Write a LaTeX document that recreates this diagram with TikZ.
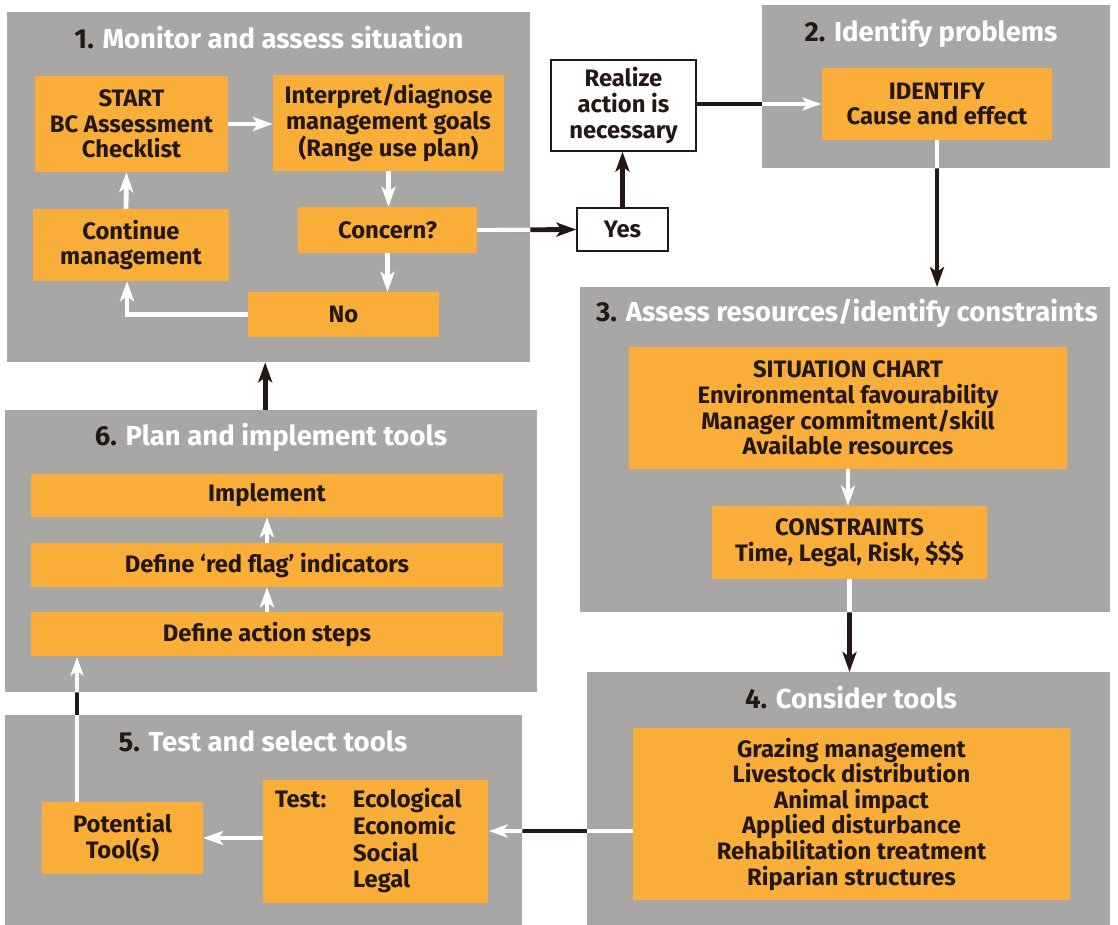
\documentclass[tikz,border=0pt]{standalone}
\usepackage{fontspec}
\setmainfont{Fira Sans}
\usetikzlibrary{arrows.meta}
\definecolor{panelgrey}{RGB}{168,167,165}
\definecolor{boxorange}{RGB}{248,174,56}
\definecolor{ink}{RGB}{35,24,21}

\begin{document}
\begin{tikzpicture}[x=1pt,y=-1pt,
        panel/.style={fill=panelgrey,inner sep=0pt,anchor=north west},
        ptitle/.style={text=white,font=\bfseries\fontsize{27.5}{30}\selectfont,inner sep=0pt},
        obox/.style={fill=boxorange,text=ink,align=center,inner sep=0pt,font=\bfseries\fontsize{23.8}{25.6}\selectfont},
        wbox/.style={obox,fill=white,draw=ink,line width=1.3pt},
        wlink/.style={draw=white,line width=4.8pt,-{Stealth[length=20pt,width=14pt,inset=5pt]}},
        klink/.style={wlink,draw=ink,fill=ink}
    ]
    \useasboundingbox (0,0) rectangle (1118,925);

    %--- panels ---
    \node[panel,minimum width=523,minimum height=350] (p1) at (7,12) {};
    \node[panel,minimum width=348,minimum height=163] (p2) at (762,5) {};
    \node[panel,minimum width=530,minimum height=325] (p3) at (580,287) {};
    \node[panel,minimum width=523,minimum height=253] (p4) at (587,672) {};
    \node[panel,minimum width=517,minimum height=210] (p5) at (5,715) {};
    \node[panel,minimum width=532,minimum height=282] (p6) at (5,410) {};

    %--- titles ---
    \node[ptitle] (t1) at (269,38) {\textcolor{ink}{1.} Monitor and assess situation};
    \node[ptitle] (t2) at (931,33) {\textcolor{ink}{2.} Identify problems};
    \node[ptitle] (t3) at (847,313) {\textcolor{ink}{3.} Assess resources/identify constraints};
    \node[ptitle] (t4) at (851,698) {\textcolor{ink}{4.} Consider tools};
    \node[ptitle] (t5) at (263,741) {\textcolor{ink}{5.} Test and select tools};
    \node[ptitle] (t6) at (271,437) {\textcolor{ink}{6.} Plan and implement tools};

    %--- 1. monitor ---
    \node[obox,minimum width=193,minimum height=96] (start) at (131.5,124) {START\\BC Assessment\\Checklist};
    \node[obox,minimum width=231,minimum height=96] (interp) at (388.5,123) {Interpret/diagnose\\management goals\\(Range use plan)};
    \node[obox,minimum width=196,minimum height=72] (cont) at (131,245) {Continue\\management};
    \node[obox,minimum width=179,minimum height=46] (concern) at (387.5,230) {Concern?};
    \node[obox,minimum width=191,minimum height=45] (no) at (343.5,314.5) {No};

    \node[wbox,minimum width=145,minimum height=91] (realize) at (623.5,105.5) {Realize\\action is\\necessary};
    \node[wbox,minimum width=91,minimum height=43] (yes) at (622.5,229.5) {Yes};

    %--- 2. identify ---
    \node[obox,minimum width=230,minimum height=72] (ident) at (937,104) {IDENTIFY\\Cause and effect};

    %--- 3. resources ---
    \node[obox,minimum width=438,minimum height=122] (sit) at (848,408) {SITUATION CHART\\Environmental favourability\\Manager commitment/skill\\Available resources};
    \node[obox,minimum width=275,minimum height=73] (constr) at (849.5,542.5) {CONSTRAINTS\\Time, Legal, Risk, \$\$\$};

    %--- 4. tools ---
    \node[obox,minimum width=437,minimum height=172] (tools) at (851.5,814) {Grazing management\\Livestock distribution\\Animal impact\\Applied disturbance\\Rehabilitation treatment\\Riparian structures};

    %--- 5. test ---
    \node[obox,align=left,text width=201pt,inner xsep=12pt,minimum height=123] (test) at (375.5,841.5) {\begin{tabular}{@{}p{78pt}@{}l@{}}Test: & Ecological\\ & Economic\\ & Social\\ & Legal\end{tabular}};
    \node[obox,minimum width=161,minimum height=72] (pot) at (122.5,838) {Potential\\Tool(s)};

    %--- 6. plan ---
    \node[obox,minimum width=472,minimum height=43] (impl) at (267,495.5) {Implement};
    \node[obox,minimum width=472,minimum height=44] (flag) at (267,565) {Define ‘red flag’ indicators};
    \node[obox,minimum width=472,minimum height=44] (act) at (267,634) {Define action steps};

    %--- links inside panels ---
    \draw[wlink] (start.east) -- (start.east -| interp.west);
    \draw[wlink] (interp.south) -- (interp.south |- concern.north);
    \draw[wlink] (concern.south) -- (concern.south |- no.north);
    \draw[wlink] (no.west) -| ([xshift=-4pt]cont.south);
    \draw[wlink] ([xshift=-5pt]cont.north) -- ([xshift=-5pt]start.south);
    \draw[wlink] (sit.south) -- (sit.south |- constr.north);
    \draw[wlink] (test.west |- pot.east) -- (pot.east);
    \draw[wlink] (act.north) -- (act.north |- flag.south);
    \draw[wlink] (flag.north) -- (flag.north |- impl.south);

    %--- links between panels (black outside, white inside) ---
    \draw[klink] (yes.north) -- (yes.north |- realize.south);
    \draw[klink] ([xshift=-6pt]p6.north) -- ([xshift=-6pt]p6.north |- p1.south);
    \draw[klink] (concern.east) -- (yes.west);
    \draw[klink] (realize.east |- ident.west) -- (ident.west);
    \draw[klink] (ident.south) -- (ident.south |- p3.north);
    \draw[klink] (constr.south) -- (constr.south |- p4.north);
    \draw[klink] (tools.west |- 0,831) -- (test.east |- 0,831);
    \draw[klink] ([xshift=-45.5pt]pot.north) -- ([xshift=-45.5pt]pot.north |- act.south);
    \begin{scope}
        \clip (p1.north west) rectangle (p1.south east)
              (p2.north west) rectangle (p2.south east)
              (p3.north west) rectangle (p3.south east)
              (p4.north west) rectangle (p4.south east)
              (p5.north west) rectangle (p5.south east)
              (p6.north west) rectangle (p6.south east);
        \draw[wlink] (concern.east) -- (yes.west);
        \draw[wlink] (realize.east |- ident.west) -- (ident.west);
        \draw[wlink] (ident.south) -- (ident.south |- p3.north);
        \draw[wlink] (constr.south) -- (constr.south |- p4.north);
        \draw[wlink] (tools.west |- 0,831) -- (test.east |- 0,831);
        \draw[wlink] ([xshift=-45.5pt]pot.north) -- ([xshift=-45.5pt]pot.north |- act.south);
    \end{scope}
\end{tikzpicture}
\end{document}
